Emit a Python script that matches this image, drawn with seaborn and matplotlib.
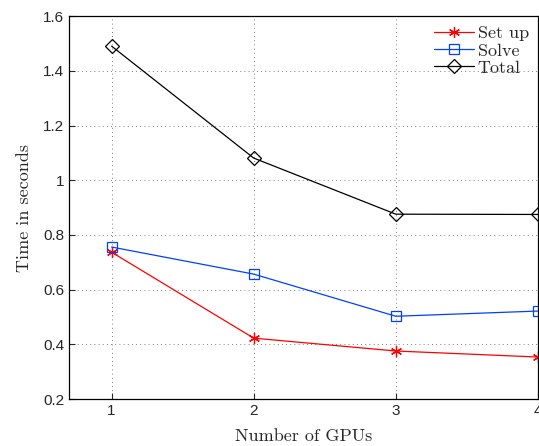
import matplotlib
matplotlib.use("Agg")
import matplotlib.pyplot as plt
import seaborn as sns
import pandas as pd

gpus = [1, 2, 3, 4]
setup = [0.737, 0.423, 0.376, 0.354]
solve = [0.756, 0.657, 0.503, 0.522]
total = [1.49, 1.081, 0.876, 0.875]

df = pd.DataFrame({
    "GPUs": gpus * 3,
    "Time": setup + solve + total,
    "Series": ["Set up"] * 4 + ["Solve"] * 4 + ["Total"] * 4,
})

sns.set_style("ticks")
plt.rcParams["font.family"] = ["Liberation Sans", "DejaVu Sans"]

fig = plt.figure(figsize=(5.39, 4.46), dpi=100)
ax = fig.add_axes([0.128, 0.105, 0.870, 0.859])

palette = {"Set up": "#ff0000", "Solve": "#0040ff", "Total": "#000000"}
markers = {"Set up": (6, 2, 0), "Solve": "s", "Total": "D"}
sizes = {"Set up": 8, "Solve": 7, "Total": 7}
for name in ["Set up", "Solve", "Total"]:
    sub = df[df["Series"] == name]
    sns.lineplot(data=sub, x="GPUs", y="Time", ax=ax, color=palette[name],
                 marker=markers[name], markersize=sizes[name],
                 markerfacecolor="none" if name != "Set up" else palette[name],
                 markeredgecolor=palette[name], markeredgewidth=0.9,
                 linewidth=0.9, label=name)

ax.set_xlim(0.7, 4.0)
ax.set_ylim(0.2, 1.6)
ax.set_xticks([1, 2, 3, 4])
ax.set_yticks([0.2, 0.4, 0.6, 0.8, 1.0, 1.2, 1.4, 1.6])
ax.set_yticklabels(["0.2", "0.4", "0.6", "0.8", "1", "1.2", "1.4", "1.6"])
ax.grid(True, linestyle=(0, (1, 4)), color="#555555", linewidth=0.6)
ax.tick_params(direction="in", labelsize=11, length=4, width=0.8)
for s in ax.spines.values():
    s.set_linewidth(0.9)
    s.set_color("black")

ax.set_xlabel("Number of GPUs", family="cmr10", fontsize=13, labelpad=8)
ax.set_ylabel("Time in seconds", family="cmr10", fontsize=13, labelpad=8)

leg = ax.legend(loc="upper right", frameon=False, prop={"family": "cmr10", "size": 13},
                handlelength=2.2, handletextpad=0.2, labelspacing=0.08,
                borderaxespad=0.1, bbox_to_anchor=(1.0, 0.998))

fig.savefig("out.png", dpi=100)
